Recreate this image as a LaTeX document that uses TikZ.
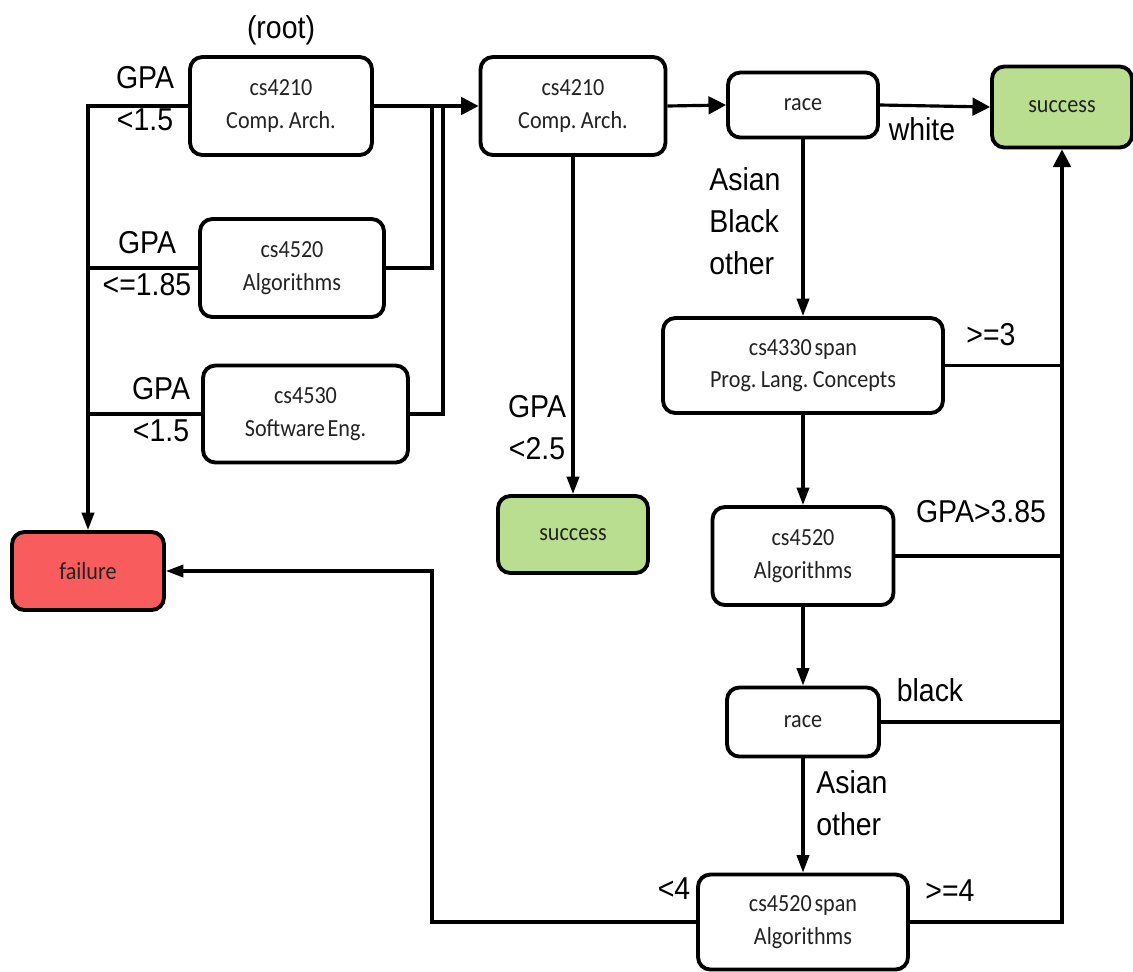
\documentclass[tikz,border=0pt]{standalone}
\usepackage{fontspec}
\usetikzlibrary{arrows.meta}
\newfontfamily\lblfont[FakeStretch=0.9]{Liberation Sans}
\newfontfamily\boxfont[FakeStretch=0.9,WordSpace=0.55]{Carlito}
\definecolor{okgreen}{HTML}{B9DE8F}
\definecolor{badred}{HTML}{F85C5C}
\definecolor{ink}{HTML}{222222}
\begin{document}
\begin{tikzpicture}[x=0.02cm,y=-0.02cm,
  box/.style={draw, line width=2.2pt, rounded corners=7pt, align=center, inner sep=0pt,
              text=ink, font=\boxfont\fontsize{14}{18.5}\selectfont},
  lbl/.style={font=\lblfont\fontsize{18}{24}\selectfont, inner sep=0pt, align=center},
  wire/.style={line width=1.8pt},
  arr/.style={wire, -{Triangle[length=10pt,width=7pt]}},
  bigarr/.style={wire, -{Triangle[length=10pt,width=10pt]}},
]
\useasboundingbox (0,0) rectangle (1133,971);

% decision boxes
\node[box, minimum width=3.64cm, minimum height=1.96cm] (root) at (281,106) {cs4210\\Comp. Arch.};
\node[box, minimum width=3.68cm, minimum height=1.96cm] (algA) at (292,268) {cs4520\\Algorithms};
\node[box, minimum width=4.1cm, minimum height=1.94cm] (swe) at (305.5,414) {cs4530\\Software Eng.};
\node[box, minimum width=3.7cm, minimum height=1.96cm] (arch) at (573,106) {cs4210\\Comp. Arch.};
\node[box, minimum width=3.0cm, minimum height=1.3cm] (raceA) at (803,105) {race};
\node[box, fill=okgreen, minimum width=2.8cm, minimum height=1.62cm] (succA) at (1062,107) {success};
\node[box, fill=okgreen, minimum width=3.0cm, minimum height=1.54cm] (succB) at (573,534.5) {success};
\node[box, minimum width=5.6cm, minimum height=1.9cm] (plc) at (803,365.5) {cs4330 span\\Prog. Lang. Concepts};
\node[box, minimum width=3.62cm, minimum height=1.96cm] (algB) at (803,556) {cs4520\\Algorithms};
\node[box, minimum width=3.04cm, minimum height=1.38cm] (raceB) at (803,722) {race};
\node[box, minimum width=4.2cm, minimum height=1.9cm] (span) at (803,922) {cs4520 span\\Algorithms};
\node[box, fill=badred, minimum width=3.04cm, minimum height=1.56cm] (fail) at (88,571) {failure};

% junction points
\coordinate (ja) at (432,106);
\coordinate (jb) at (443,106);
\coordinate (turn) at (432,571);

% left block: failing branches
\draw[arr] (root.west) -| (fail.north);
\draw[wire] (algA.west) -- (algA.west -| fail.north);
\draw[wire] (swe.west) -- (swe.west -| fail.north);

% left block: passing branches
\draw[bigarr] (root.east) -- (arch.west);
\draw[wire] (algA.east) -| (ja);
\draw[wire] (swe.east) -| (jb);

% main chain
\draw[bigarr] (arch.east) -- (raceA.west);
\draw[bigarr] (raceA.east) -- (succA.west);
\draw[arr] (arch.south) -- (succB.north);
\draw[arr] (raceA.south) -- (plc.north);
\draw[arr] (plc.south) -- (algB.north);
\draw[arr] (algB.south) -- (raceB.north);
\draw[arr] (raceB.south) -- (span.north);

% right bus up to success
\draw[bigarr] (span.east) -| (succA.south);
\draw[wire] (plc.east) -- (plc.east -| succA.south);
\draw[wire] (algB.east) -- (algB.east -| succA.south);
\draw[wire] (raceB.east) -- (raceB.east -| succA.south);

% back to failure
\draw[arr] (span.west) -| (turn) -- (fail.east);

% labels
\node[lbl] (lroot) at (281,30) {(root)};
\node[lbl] (l1) at (145,99) {GPA\\<1.5};
\node[lbl] (l2) at (147,264) {GPA\\<=1.85};
\node[lbl] (l3) at (161,410) {GPA\\<1.5};
\node[lbl] (l4) at (537,428) {GPA\\<2.5};
\node[lbl] (l5) at (922,129) {white};
\node[lbl, align=left, anchor=west] (l6) at (709,221) {Asian\\Black\\other};
\node[lbl] (l7) at (991,335) {>=3};
\node[lbl] (l8) at (981,512) {GPA>3.85};
\node[lbl] (l9) at (930,690) {black};
\node[lbl, align=left, anchor=west] (l10) at (816,803) {Asian\\other};
\node[lbl] (l11) at (674,889) {<4};
\node[lbl] (l12) at (950,891) {>=4};
\end{tikzpicture}
\end{document}
